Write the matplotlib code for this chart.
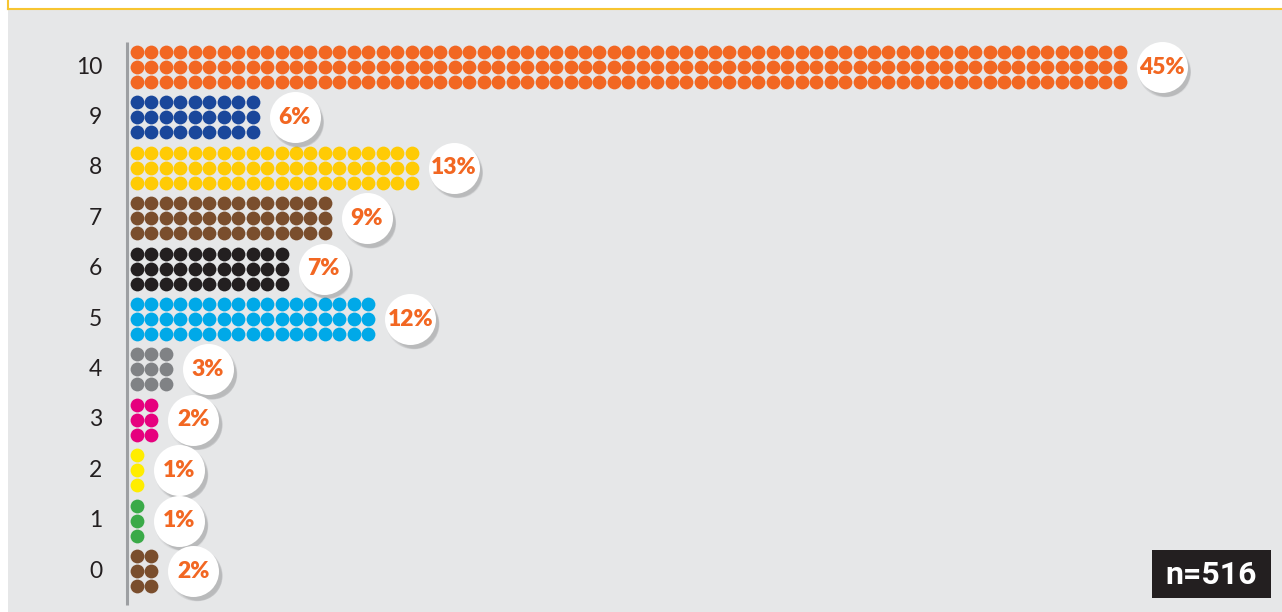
import matplotlib
matplotlib.use('Agg')
import matplotlib.pyplot as plt
import numpy as np
from matplotlib.patches import Rectangle
from matplotlib.lines import Line2D

# data: rating 0..10, number of dot columns per row, share label
categories = ['0', '1', '2', '3', '4', '5', '6', '7', '8', '9', '10']
dot_columns = [2, 1, 1, 2, 3, 17, 11, 14, 20, 9, 69]
percent_labels = ['2%', '1%', '1%', '2%', '3%', '12%', '7%', '9%', '13%', '6%', '45%']
row_colors = ['#7A4E2D', '#3AAA48', '#FFED00', '#E6007E', '#808285', '#00A9E8',
              '#231F20', '#7A4E2D', '#FFCB05', '#1A479B', '#F26722']
sample_label = 'n=516'

W, H = 1282, 612
fig = plt.figure(figsize=(W / 100, H / 100), dpi=100)
fig.patch.set_facecolor('white')

# grey panel and the yellow border of the box above
fig.add_artist(Rectangle((8 / W, 0), 1, (H - 9) / H, transform=fig.transFigure,
                         facecolor='#E6E7E8', edgecolor='none', zorder=0))
fig.add_artist(Line2D([8 / W, 1], [(H - 9) / H] * 2, transform=fig.transFigure,
                      color='#F7C531', lw=1.5))
fig.add_artist(Line2D([8 / W, 8 / W], [(H - 9) / H, 1], transform=fig.transFigure,
                      color='#F7C531', lw=1.5))

ax = fig.add_axes([0, 0, 1, 1])
ax.set_facecolor('none')
ax.axis('off')

# pixel layout -> data scale
col_px = 14.45   # px per dot column
x0_px = 137      # first dot centre
row_px = 50.4    # px per rating row
y0_px = 571      # centre of row 0 from top
ax.set_xlim(-x0_px / col_px, (W - x0_px) / col_px)
ax.set_ylim((y0_px - H) / row_px, y0_px / row_px)

sub = 15 / row_px
dot_s = (13.8 * 0.72) ** 2
circle_s = (51 * 0.72) ** 2

for k, (n, c) in enumerate(zip(dot_columns, row_colors)):
    xs, ys = np.meshgrid(np.arange(n), k + np.array([sub, 0, -sub]))
    ax.scatter(xs.ravel(), ys.ravel(), s=dot_s, color=c, linewidths=0, zorder=2)

# label bubbles with soft shadow
off_cols = 42 / col_px
for k, (n, lab) in enumerate(zip(dot_columns, percent_labels)):
    cx = n - 1 + off_cols
    for j in range(6):
        ax.scatter(cx + (2 + j * 0.6) / col_px, k - (3 + j * 0.6) / row_px,
                   s=(51 + 2 - j * 1.2) ** 2 * 0.72 ** 2, color='#6D6E71',
                   alpha=0.07, linewidths=0, zorder=3)
    ax.scatter(cx, k, s=circle_s, color='white', linewidths=0, zorder=4)
    ax.text(cx, k, lab, ha='center', va='center', fontsize=16.5, fontweight='heavy',
            color='#F26722', family=['Lato', 'DejaVu Sans'], zorder=5)

# category labels and axis line
for k, lab in enumerate(categories):
    ax.text((102 - x0_px) / col_px, k, lab, ha='right', va='center', fontsize=16.5,
            color='#231F20', family=['Lato', 'DejaVu Sans'])
ax.plot([(127 - x0_px) / col_px] * 2, [(y0_px - 605) / row_px, (y0_px - 42) / row_px],
        color='#9D9FA2', lw=2.2, solid_capstyle='butt', zorder=1)

# sample size box
fig.add_artist(Rectangle((1152 / W, (H - 598) / H), 119 / W, 48 / H, transform=fig.transFigure,
                         facecolor='#231F20', edgecolor='none', zorder=5))
fig.text(1211 / W, 1 - 575 / H, sample_label, ha='center', va='center', fontsize=23,
         fontweight='bold', color='white', family=['Roboto', 'DejaVu Sans'], zorder=6)

fig.savefig('out.png', dpi=100, facecolor=fig.get_facecolor())
